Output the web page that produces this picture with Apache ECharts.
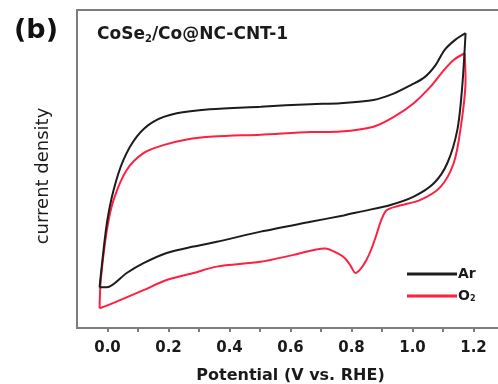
<!DOCTYPE html>
<html>
<head>
<meta charset="utf-8">
<script src="https://cdn.jsdelivr.net/npm/echarts@6/dist/echarts.min.js"></script>
<style>
  html, body { margin: 0; padding: 0; background: #fff; }
  #chart { width: 498px; height: 384px; }
</style>
</head>
<body>
<div id="chart"></div>
<script>
// Cyclic voltammograms of CoSe2/Co@NC-CNT-1 in Ar- and O2-saturated electrolyte.
// Potential in V vs. RHE, current density in arbitrary units.

// Ar: anodic (forward) sweep
const arForwardV = [-0.026, -0.019, -0.002, 0.020, 0.052, 0.096, 0.151, 0.227, 0.335, 0.502, 0.666, 0.764, 0.872, 0.940, 0.995, 1.040, 1.075, 1.105, 1.140, 1.174];
const arForwardI = [12.8, 19.3, 33.0, 43.4, 52.8, 60.2, 64.9, 67.5, 68.8, 69.6, 70.4, 70.7, 71.7, 73.8, 76.4, 78.9, 82.6, 87.4, 90.6, 92.7];
// Ar: cathodic (reverse) sweep
const arReverseV = [1.174, 1.163, 1.147, 1.114, 1.070, 1.004, 0.928, 0.830, 0.774, 0.666, 0.502, 0.358, 0.282, 0.194, 0.118, 0.063, -0.002, -0.026];
const arReverseI = [92.7, 75.9, 62.3, 51.8, 45.5, 41.3, 38.7, 36.6, 35.4, 33.4, 30.3, 27.1, 25.6, 23.6, 20.4, 17.3, 12.8, 12.8];

// O2: anodic (forward) sweep
const o2ForwardV = [-0.026, -0.022, -0.002, 0.020, 0.063, 0.118, 0.183, 0.260, 0.347, 0.502, 0.666, 0.764, 0.872, 0.939, 1.004, 1.059, 1.103, 1.135, 1.171];
const o2ForwardI = [6.2, 15.1, 30.8, 40.3, 49.7, 55.0, 57.5, 59.3, 60.2, 60.8, 61.6, 61.8, 63.3, 66.4, 70.7, 75.9, 81.1, 84.3, 86.4];
// O2: cathodic (reverse) sweep with the ORR peak near 0.81 V
const o2ReverseV = [1.171, 1.174, 1.157, 1.135, 1.092, 1.026, 0.950, 0.915, 0.897, 0.882, 0.866, 0.848, 0.830, 0.813, 0.798, 0.780, 0.758, 0.713, 0.610, 0.502, 0.358, 0.282, 0.194, 0.118, 0.020, -0.026];
const o2ReverseI = [86.4, 78.0, 62.3, 51.8, 44.4, 40.3, 38.3, 37.0, 33.8, 29.4, 25.0, 21.2, 18.6, 17.3, 19.4, 21.8, 23.3, 25.0, 23.0, 20.8, 19.3, 17.3, 15.1, 11.9, 7.9, 6.2];

// Axis tick labels (V vs. RHE)
const tickLabels = ['0.0', '0.2', '0.4', '0.6', '0.8', '1.0', '1.2'];

const zip = (xs, ys) => xs.map((x, i) => [x, ys[i]]);

const AR_COLOR = '#1c1c1c';
const O2_COLOR = '#ff1f3f';
const AXIS_COLOR = '#7d7d7d';
const FONT = 'DejaVu Sans';

function branch(name, color, v, i) {
  return {
    name: name,
    type: 'line',
    data: zip(v, i),
    smooth: 0.3,
    symbol: 'none',
    lineStyle: { color: color, width: 2 },
    itemStyle: { color: color },
    z: name === 'Ar' ? 3 : 2
  };
}

const chart = echarts.init(document.getElementById('chart'), null, { renderer: 'canvas' });

chart.setOption({
  animation: false,
  backgroundColor: '#ffffff',
  title: [
    {
      text: '(b)',
      left: 9,
      top: 12,
      textStyle: { fontFamily: FONT, fontWeight: 'bold', fontSize: 27, color: '#111' }
    },
    {
      text: 'CoSe{s|2}/Co@NC-CNT-1',
      left: 92,
      top: 21,
      textStyle: {
        fontFamily: FONT, fontWeight: 'bold', fontSize: 17, color: '#1a1a1a',
        rich: {
          s: { fontFamily: FONT, fontWeight: 'bold', fontSize: 10, color: '#1a1a1a', verticalAlign: 'bottom', padding: [8, 0, 0, 0] }
        }
      }
    }
  ],
  legend: {
    orient: 'vertical',
    left: 402,
    top: 262,
    itemWidth: 50,
    itemHeight: 3,
    itemGap: 8,
    icon: 'rect',
    data: ['Ar', 'O2'],
    formatter: function (n) { return n === 'O2' ? '{t|O}{s|2}' : '{t|Ar}'; },
    textStyle: {
      padding: [0, 0, 0, -4],
      rich: {
        t: { fontFamily: FONT, fontWeight: 'bold', fontSize: 14, color: '#1a1a1a' },
        s: { fontFamily: FONT, fontWeight: 'bold', fontSize: 8, color: '#1a1a1a', verticalAlign: 'bottom', padding: [6, 0, 0, 0] }
      }
    }
  },
  grid: {
    left: 77,
    top: 10,
    width: 427,
    height: 318,
    outerBoundsMode: 'none',
    containLabel: false,
    show: true,
    borderColor: AXIS_COLOR,
    borderWidth: 2,
    backgroundColor: 'transparent'
  },
  xAxis: {
    type: 'value',
    min: -0.1,
    max: 1.3,
    interval: 0.1,
    name: 'Potential (V vs. RHE)',
    nameLocation: 'middle',
    nameGap: 40,
    nameTextStyle: { fontFamily: FONT, fontWeight: 'bold', fontSize: 16, color: '#1a1a1a' },
    axisLine: { show: true, lineStyle: { color: AXIS_COLOR, width: 2 } },
    axisTick: { show: true, inside: false, length: 4, lineStyle: { color: AXIS_COLOR, width: 2 } },
    splitLine: { show: false },
    axisLabel: {
      margin: 13,
      fontFamily: FONT,
      fontWeight: 'bold',
      fontSize: 15,
      color: '#1a1a1a',
      showMinLabel: false,
      formatter: function (v) {
        const k = Math.round(v * 10);
        if (k < 0 || k % 2 !== 0) return '';
        const s = (k / 10).toFixed(1);
        return tickLabels.indexOf(s) >= 0 ? s : '';
      }
    }
  },
  yAxis: {
    type: 'value',
    min: 0,
    max: 100,
    name: 'current density',
    nameLocation: 'middle',
    nameGap: 25,
    nameTextStyle: { fontFamily: FONT, fontSize: 18, color: '#1a1a1a', padding: [0, 14, 0, 0] },
    axisLine: { show: true, onZero: false, lineStyle: { color: AXIS_COLOR, width: 2 } },
    axisTick: { show: false },
    axisLabel: { show: false },
    splitLine: { show: false }
  },
  series: [
    branch('O2', O2_COLOR, o2ForwardV, o2ForwardI),
    branch('O2', O2_COLOR, o2ReverseV, o2ReverseI),
    branch('Ar', AR_COLOR, arForwardV, arForwardI),
    branch('Ar', AR_COLOR, arReverseV, arReverseI)
  ]
});
</script>
</body>
</html>
